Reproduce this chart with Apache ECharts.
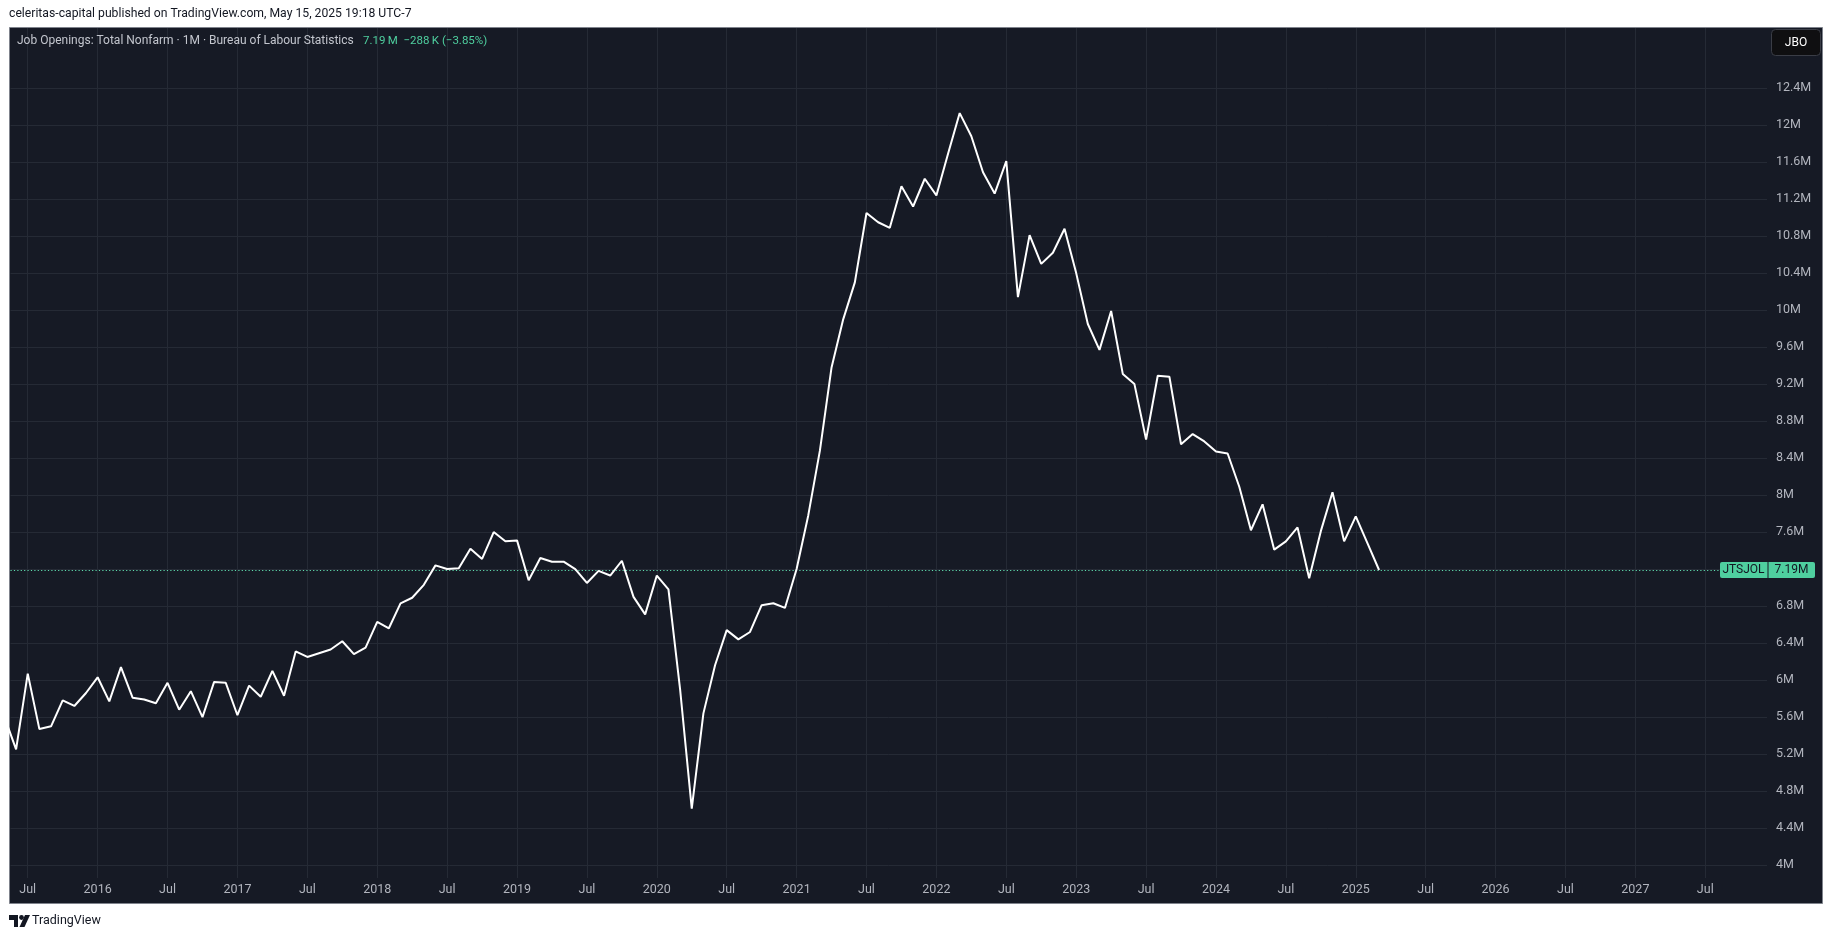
<!DOCTYPE html>
<html>
<head>
<meta charset="utf-8">
<script src="https://cdn.jsdelivr.net/npm/echarts@6/dist/echarts.min.js"></script>
<style>
html,body{margin:0;padding:0;background:#ffffff;}
#c{width:1835px;height:940px;}
</style>
</head>
<body>
<div id="c"></div>
<script>
// ---- Data (Job Openings: Total Nonfarm, millions, monthly) ----
const seriesCode = 'JTSJOL';
const values2015 = [5.60, 5.25, 6.07, 5.47, 5.50, 5.78, 5.72, 5.86];           // May..Dec
const values2016 = [6.03, 5.77, 6.14, 5.81, 5.79, 5.75, 5.97, 5.68, 5.88, 5.60, 5.98, 5.97];
const values2017 = [5.62, 5.94, 5.82, 6.10, 5.83, 6.31, 6.25, 6.29, 6.33, 6.42, 6.28, 6.35];
const values2018 = [6.63, 6.56, 6.83, 6.89, 7.03, 7.24, 7.20, 7.21, 7.42, 7.31, 7.60, 7.50];
const values2019 = [7.51, 7.08, 7.32, 7.28, 7.28, 7.20, 7.05, 7.18, 7.13, 7.29, 6.90, 6.71];
const values2020 = [7.13, 6.98, 5.90, 4.61, 5.64, 6.16, 6.54, 6.44, 6.52, 6.81, 6.83, 6.78];
const values2021 = [7.20, 7.78, 8.48, 9.38, 9.90, 10.30, 11.05, 10.95, 10.89, 11.34, 11.12, 11.42];
const values2022 = [11.24, 11.69, 12.13, 11.88, 11.49, 11.26, 11.61, 10.14, 10.81, 10.50, 10.62, 10.88];
const values2023 = [10.40, 9.85, 9.57, 9.99, 9.31, 9.20, 8.60, 9.29, 9.28, 8.55, 8.66, 8.58];
const values2024 = [8.47, 8.45, 8.09, 7.62, 7.90, 7.41, 7.50, 7.65, 7.10, 7.61, 8.03, 7.50];
const values2025 = [7.77, 7.48, 7.19];                                          // Jan..Mar

// year, first month (1-12), values
const yearBlocks = [
  [2015, 5, values2015], [2016, 1, values2016], [2017, 1, values2017],
  [2018, 1, values2018], [2019, 1, values2019], [2020, 1, values2020],
  [2021, 1, values2021], [2022, 1, values2022], [2023, 1, values2023],
  [2024, 1, values2024], [2025, 1, values2025]
];

// ---- Axis ticks / labels ----
const yTicks = [4, 4.4, 4.8, 5.2, 5.6, 6, 6.4, 6.8, 7.2, 7.6, 8, 8.4, 8.8, 9.2, 9.6, 10, 10.4, 10.8, 11.2, 11.6, 12, 12.4];
const yTickLabels = ['4M','4.4M','4.8M','5.2M','5.6M','6M','6.4M','6.8M','7.2M','7.6M','8M','8.4M','8.8M','9.2M','9.6M','10M','10.4M','10.8M','11.2M','11.6M','12M','12.4M'];
// x = months since Jan 2016
const xTicks = [-6, 0, 6, 12, 18, 24, 30, 36, 42, 48, 54, 60, 66, 72, 78, 84, 90, 96, 102, 108, 114, 120, 126, 132, 138];
const xTickLabels = ['Jul','2016','Jul','2017','Jul','2018','Jul','2019','Jul','2020','Jul','2021','Jul','2022','Jul','2023','Jul','2024','Jul','2025','Jul','2026','Jul','2027','Jul'];

// ---- Texts ----
const headerText = 'celeritas-capital published on TradingView.com, May 15, 2025 19:18 UTC-7';
const legendTitle = 'Job Openings: Total Nonfarm \u00b7 1M \u00b7 Bureau of Labour Statistics';
const legendValues = '7.19\u2009M  \u2212288\u2009K (\u22123.85%)';
const lastLabel = '7.19M';
const symbolText = 'JBO';
const brandText = 'TradingView';

// ---- Build series points ----
const points = [];
yearBlocks.forEach(([yr, m0, arr]) => {
  arr.forEach((v, i) => points.push([(yr - 2016) * 12 + (m0 - 1) + i, v]));
});
const lastValue = points[points.length - 1][1];

const FONT = 'Roboto, "Noto Sans", sans-serif';
const GREEN = '#4fcf9f';
const BG = '#161a25';
const GRIDC = '#252a35';
const LABELC = '#b2b5be';

const chart = echarts.init(document.getElementById('c'), null, {renderer: 'canvas'});

const option = {
  backgroundColor: '#ffffff',
  animation: false,
  grid: {left: 10.5, top: 28, width: 1756.5, height: 850},
  xAxis: {
    type: 'value',
    min: -7.48, max: 143.3,
    axisLine: {show: false},
    axisTick: {show: false, customValues: xTicks},
    axisLabel: {
      customValues: xTicks,
      formatter: v => xTickLabels[xTicks.indexOf(v)],
      color: LABELC, fontSize: 12.5, fontFamily: FONT, margin: 5
    },
    splitLine: {show: true, lineStyle: {color: GRIDC, width: 1}}
  },
  yAxis: {
    type: 'value',
    position: 'right',
    min: 3.86, max: 13.05,
    axisLine: {show: false},
    axisTick: {show: false, customValues: yTicks},
    axisLabel: {
      customValues: yTicks,
      formatter: v => yTickLabels[yTicks.indexOf(v)],
      color: LABELC, fontSize: 12.5, fontFamily: FONT, margin: 9, align: 'left'
    },
    splitLine: {show: true, lineStyle: {color: GRIDC, width: 1}}
  },
  series: [{
    type: 'line',
    name: seriesCode,
    data: points,
    showSymbol: false,
    clip: true,
    lineStyle: {color: '#ffffff', width: 2},
    z: 5,
    markLine: {
      silent: true,
      symbol: 'none',
      label: {show: false},
      lineStyle: {color: '#5fdcae', type: [1.2, 2.2], width: 1, opacity: 1},
      data: [{yAxis: lastValue}]
    }
  }],
  graphic: [
    {type: 'rect', z: -10, shape: {x: 9.5, y: 27.5, width: 1813, height: 876},
     style: {fill: BG, stroke: '#7f838c', lineWidth: 1}},
    {type: 'text', x: 9, y: 8, z: 10,
     style: {text: headerText, fill: '#131722', font: '12.2px ' + FONT}},
    {type: 'text', x: 17, y: 35, z: 10,
     style: {text: legendTitle, fill: '#c3c6ce', font: '12px ' + FONT}},
    {type: 'text', x: 363, y: 35, z: 10,
     style: {text: legendValues, fill: GREEN, font: '11.5px ' + FONT}},
    {type: 'rect', z: 10, shape: {x: 1771.5, y: 29.5, width: 49, height: 26, r: 4},
     style: {fill: '#0f0f11', stroke: '#3a3d46', lineWidth: 1}},
    {type: 'text', x: 1796, y: 42.5, z: 11,
     style: {text: symbolText, fill: '#ffffff', font: '12px ' + FONT, align: 'center', verticalAlign: 'middle'}},
    // TradingView logo
    {type: 'polygon', z: 10, shape: {points: [[9,915],[18,915],[18,927],[14,927],[14,920],[9,920]]}, style: {fill: '#131722'}},
    {type: 'circle', z: 10, shape: {cx: 21.5, cy: 917.5, r: 2.4}, style: {fill: '#131722'}},
    {type: 'polygon', z: 10, shape: {points: [[25,915],[30,915],[24.5,927],[19.5,927]]}, style: {fill: '#131722'}},
    {type: 'text', x: 32, y: 914, z: 10,
     style: {text: brandText, fill: '#131722', font: '12.5px ' + FONT}}
  ]
};
chart.setOption(option);

// last value label on the price scale
const yPix = chart.convertToPixel({yAxisIndex: 0}, lastValue);
chart.setOption({
  graphic: option.graphic.concat([
    {type: 'rect', z: 20, shape: {x: 1720, y: yPix - 8, width: 47.5, height: 16, r: [2,0,0,2]}, style: {fill: GREEN}},
    {type: 'rect', z: 20, shape: {x: 1768.5, y: yPix - 8, width: 46.5, height: 16, r: [0,2,2,0]}, style: {fill: GREEN}},
    {type: 'text', z: 21, x: 1743.5, y: yPix, style: {text: seriesCode, fill: '#131722', font: '12px ' + FONT, align: 'center', verticalAlign: 'middle'}},
    {type: 'text', z: 21, x: 1791.5, y: yPix, style: {text: lastLabel, fill: '#131722', font: '12px ' + FONT, align: 'center', verticalAlign: 'middle'}}
  ])
});
</script>
</body>
</html>
